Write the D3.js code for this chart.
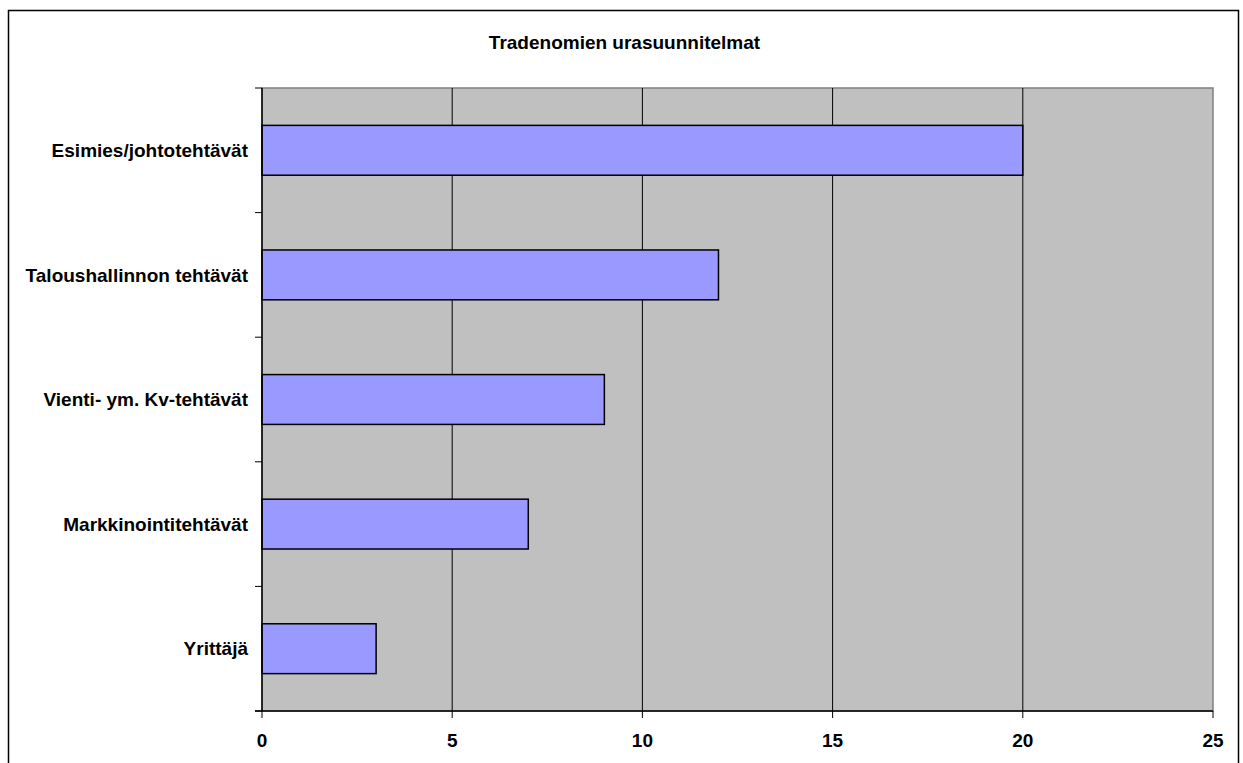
<!DOCTYPE html>
<html><head><meta charset="utf-8">
<script src="https://cdn.jsdelivr.net/npm/d3@7"></script>
<style>body{margin:0;background:#fff;}svg{display:block;font-family:"Liberation Sans",Arial,sans-serif;}</style>
</head><body>
<svg id="c" width="1243" height="763"></svg>
<script>
const title = "Tradenomien urasuunnitelmat";
const categories = ["Esimies/johtotehtävät","Taloushallinnon tehtävät","Vienti- ym. Kv-tehtävät","Markkinointitehtävät","Yrittäjä"];
const values = [20, 12, 9, 7, 3];
const xTicks = [0, 5, 10, 15, 20, 25];

const svg = d3.select("#c");
const L = 262, R = 1213, T = 88, B = 711;

svg.append("rect").attr("x",8.5).attr("y",10.5).attr("width",1230).attr("height",770)
  .attr("fill","#fff").attr("stroke","#000").attr("stroke-width",1.5);

svg.append("text").attr("x",624.5).attr("y",49).attr("text-anchor","middle")
  .attr("font-weight","bold").attr("font-size",19).text(title);

const x = d3.scaleLinear().domain([0,25]).range([L,R]);
const y = d3.scaleBand().domain(categories).range([T,B]).paddingInner(0.6).paddingOuter(0.3);
const yb = d3.scaleBand().domain(categories).range([T,B]);

svg.append("rect").attr("x",L).attr("y",T).attr("width",R-L).attr("height",B-T)
  .attr("fill","#c0c0c0").attr("stroke","#808080").attr("stroke-width",1.5);

svg.append("g").selectAll("line").data(xTicks.slice(1,-1)).join("line")
  .attr("x1",d=>x(d)).attr("x2",d=>x(d)).attr("y1",T).attr("y2",B)
  .attr("stroke","#000").attr("stroke-width",1);

svg.append("g").selectAll("rect").data(categories).join("rect")
  .attr("x",x(0)).attr("y",d=>y(d)).attr("width",(d,i)=>x(values[i])-x(0)).attr("height",y.bandwidth())
  .attr("fill","#9999ff").attr("stroke","#000").attr("stroke-width",1.5);

// y axis
const gy = svg.append("g");
gy.append("line").attr("x1",L).attr("x2",L).attr("y1",T).attr("y2",B).attr("stroke","#000").attr("stroke-width",1.5);
const yEdges = categories.map(c=>yb(c)).concat([B]);
gy.selectAll("line.t").data(yEdges).join("line").attr("class","t")
  .attr("x1",L-7).attr("x2",L).attr("y1",d=>d).attr("y2",d=>d).attr("stroke","#000").attr("stroke-width",1);
gy.selectAll("text").data(categories).join("text")
  .attr("x",L-14).attr("y",d=>yb(d)+yb.bandwidth()/2).attr("dy","0.35em")
  .attr("text-anchor","end").attr("font-weight","bold").attr("font-size",19).text(d=>d);

// x axis
const gx = svg.append("g");
gx.append("line").attr("x1",L-7).attr("x2",R).attr("y1",B).attr("y2",B).attr("stroke","#000").attr("stroke-width",1.5);
gx.selectAll("line.t").data(xTicks).join("line").attr("class","t")
  .attr("x1",d=>x(d)).attr("x2",d=>x(d)).attr("y1",B).attr("y2",B+7).attr("stroke","#000").attr("stroke-width",1);
gx.selectAll("text").data(xTicks).join("text")
  .attr("x",d=>x(d)).attr("y",747).attr("text-anchor","middle")
  .attr("font-weight","bold").attr("font-size",19).text(d=>d);
</script>
</body></html>
